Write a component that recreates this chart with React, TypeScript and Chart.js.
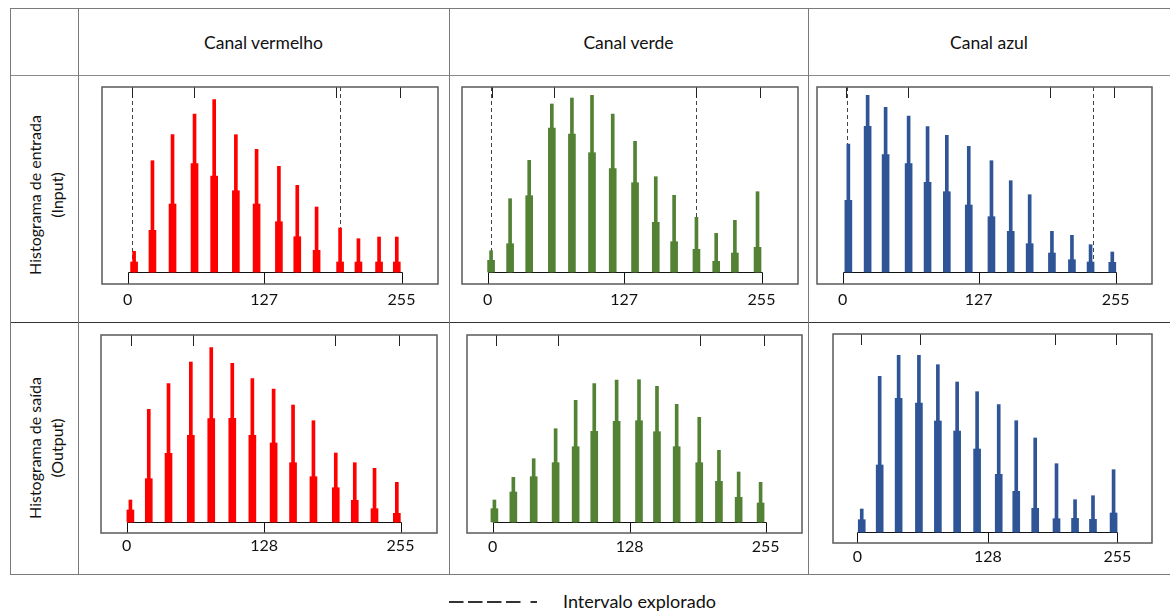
import React, { useEffect, useRef } from "react";
import { Chart, registerables } from "chart.js";

Chart.register(...registerables);

const FONT = "Lato, 'Open Sans', sans-serif";

// ---- text ----
const columnTitles = ["Canal vermelho", "Canal verde", "Canal azul"];
const inputRowLabel = ["Histograma de entrada", "(Input)"];
const outputRowLabel = ["Histograma de saída", "(Output)"];
const legendLabel = "Intervalo explorado";

// ---- axis values ----
const inputTickLabels = [0, 127, 255];
const outputTickLabels = [0, 128, 255];
const topTickValues = [3.5, 61.3, 193.7, 253.5];

// ---- data: red input ----
const redInLevels = [5.9, 23.0, 41.7, 62.2, 80.5, 100.7, 120.0, 140.8, 157.9, 175.9, 197.8, 214.9, 234.1, 250.6];
const redInPeak = [20.7, 111.3, 137.3, 158, 172.3, 137.3, 122.7, 105.7, 86.7, 65, 44, 33.3, 35, 35];
const redInCore = [10, 41.7, 68, 108.3, 96, 81.3, 68, 50.3, 35.3, 21.7, 10, 10, 10, 10];
const redInInterval = [3.7, 198];

// ---- data: green input ----
const greenInLevels = [3.1, 20.8, 38.6, 59.7, 78.4, 97.1, 116.4, 137.2, 156.5, 173.6, 194.4, 212.8, 230.2, 251.3];
const greenInPeak = [21.3, 73.3, 111.7, 168, 174, 176.7, 158, 130.7, 95.3, 76.7, 54.7, 38.7, 51.7, 80.3];
const greenInCore = [11.7, 28.3, 76.3, 144, 138, 119.3, 103.3, 89.3, 49.7, 30.3, 22.7, 10.7, 19, 24.7];
const greenInInterval = [3.2, 193.7];

// ---- data: blue input ----
const blueInLevels = [5.3, 23.3, 40.1, 61.6, 79.3, 97.3, 117.8, 139.0, 157.0, 174.7, 195.5, 214.2, 231.6, 251.9];
const blueInPeak = [128, 176.7, 164.7, 156, 145.3, 136.7, 125.7, 111.3, 91.3, 77.3, 40.7, 36.7, 27.3, 20];
const blueInCore = [71.7, 145.7, 117.3, 108.3, 89.7, 80.3, 67, 55.3, 40.7, 28.3, 19, 12.3, 10, 9.7];
const blueInInterval = [3.7, 233.8];

// ---- data: red output ----
const redOutLevels = [3.4, 20.5, 38.9, 59.7, 78.7, 98.3, 117.0, 136.8, 154.9, 173.9, 194.7, 212.4, 230.8, 251.6];
const redOutPeak = [22, 112.7, 138.3, 160, 174.3, 158.7, 143.3, 133, 117, 101.3, 69, 59.3, 53.7, 39.7];
const redOutCore = [12, 43.3, 68.7, 86.7, 103.3, 103.7, 86.7, 79, 59.3, 45.3, 34.3, 21.7, 13.3, 8.7];

// ---- data: green output ----
const greenOutLevels = [1.6, 19.3, 38.3, 58.8, 77.5, 94.9, 115.8, 136.7, 153.5, 171.9, 193.0, 211.4, 229.8, 250.3];
const greenOutPeak = [22, 44.7, 63.3, 93.3, 121.7, 138.3, 142, 142.3, 135.7, 117.7, 104.7, 71.7, 50, 39.7];
const greenOutCore = [13.3, 30, 45.3, 59.3, 75.3, 90.7, 100.7, 101.3, 90.3, 75.3, 59.3, 40.7, 24.7, 19];

// ---- data: blue output ----
const blueOutLevels = [4.2, 21.8, 40.4, 60.3, 78.9, 97.8, 117.4, 138.6, 155.8, 174.4, 195.3, 213.5, 231.1, 251.3];
const blueOutPeak = [23, 155.7, 176.7, 176.7, 167.3, 150, 140.3, 127.3, 111.3, 94, 68.3, 32.3, 36.3, 62.3];
const blueOutCore = [12.3, 67, 133.7, 129, 111, 101, 83, 57.7, 40.7, 23.7, 13.3, 13.7, 12.7, 19];

const RED = "#FF0000";
const GREEN = "#548235";
const BLUE = "#2F5597";

type PanelSpec = {
  left: number; top: number; width: number; height: number;
  yMin: number; yMax: number; xMin: number; xMax: number;
  color: string; levels: number[]; peak: number[]; core: number[];
  ticks: number[]; interval: number[]; labelPad: number;
};

const AXIS_H = 32;
const PAD = 2;

const panels: PanelSpec[] = [
  { left: 102, top: 87, width: 336, height: 197, yMin: -12, yMax: 185, xMin: -24, xMax: 289, color: RED, levels: redInLevels, peak: redInPeak, core: redInCore, ticks: inputTickLabels, interval: redInInterval, labelPad: 6 },
  { left: 462, top: 87, width: 336, height: 197, yMin: -12, yMax: 185, xMin: -24, xMax: 289, color: GREEN, levels: greenInLevels, peak: greenInPeak, core: greenInCore, ticks: inputTickLabels, interval: greenInInterval, labelPad: 6 },
  { left: 817, top: 87, width: 335, height: 197, yMin: -12, yMax: 185, xMin: -24, xMax: 289, color: BLUE, levels: blueInLevels, peak: blueInPeak, core: blueInCore, ticks: inputTickLabels, interval: blueInInterval, labelPad: 6 },
  { left: 101, top: 335, width: 336, height: 198, yMin: -11, yMax: 187, xMin: -24, xMax: 289, color: RED, levels: redOutLevels, peak: redOutPeak, core: redOutCore, ticks: outputTickLabels, interval: [], labelPad: 3 },
  { left: 467, top: 335, width: 335, height: 198, yMin: -11, yMax: 187, xMin: -24, xMax: 289, color: GREEN, levels: greenOutLevels, peak: greenOutPeak, core: greenOutCore, ticks: outputTickLabels, interval: [], labelPad: 4 },
  { left: 833, top: 334, width: 319, height: 209, yMin: -11, yMax: 198, xMin: -24, xMax: 289, color: BLUE, levels: blueOutLevels, peak: blueOutPeak, core: blueOutCore, ticks: outputTickLabels, interval: [], labelPad: 4 },
];

function Panel({ p }: { p: PanelSpec }) {
  const ref = useRef<HTMLCanvasElement>(null);
  useEffect(() => {
    const canvas = ref.current!;
    const deco = {
      id: "panelDeco",
      beforeDatasetsDraw(chart: any) {
        const { ctx, chartArea: a, scales } = chart;
        const x = scales.x, y = scales.y;
        const yb = y.getPixelForValue(0);
        ctx.save();
        const x0 = x.getPixelForValue(p.ticks[0]);
        const xm = x.getPixelForValue(p.ticks[1]);
        const x1 = x.getPixelForValue(p.ticks[2]);
        ctx.fillStyle = "#fff";
        ctx.fillRect(x0, yb, x1 - x0, a.bottom - yb);
        ctx.strokeStyle = "#111";
        ctx.lineWidth = 1;
        ctx.beginPath();
        ctx.moveTo(Math.round(x0) + 0.5, a.bottom);
        ctx.lineTo(Math.round(x0) + 0.5, Math.round(yb) + 0.5);
        ctx.lineTo(Math.round(x1) + 0.5, Math.round(yb) + 0.5);
        ctx.lineTo(Math.round(x1) + 0.5, a.bottom);
        ctx.moveTo(Math.round(xm) + 0.5, Math.round(yb) + 0.5);
        ctx.lineTo(Math.round(xm) + 0.5, a.bottom);
        ctx.stroke();
        ctx.strokeStyle = "#444";
        ctx.setLineDash([4, 3]);
        for (const v of p.interval) {
          const px = Math.round(x.getPixelForValue(v)) + 0.5;
          ctx.beginPath();
          ctx.moveTo(px, a.top);
          ctx.lineTo(px, yb);
          ctx.stroke();
        }
        ctx.restore();
      },
      afterDatasetsDraw(chart: any) {
        const { ctx, chartArea: a, scales } = chart;
        const x = scales.x;
        ctx.save();
        ctx.strokeStyle = "#222";
        ctx.lineWidth = 1;
        for (const v of topTickValues) {
          const px = Math.round(x.getPixelForValue(v)) + 0.5;
          ctx.beginPath();
          ctx.moveTo(px, a.top);
          ctx.lineTo(px, a.top + 11);
          ctx.stroke();
        }
        ctx.strokeStyle = "#5a5a5a";
        ctx.lineWidth = 1.5;
        ctx.strokeRect(a.left, a.top, a.right - a.left, a.bottom - a.top);
        ctx.restore();
      },
    };
    const chart = new Chart(canvas, {
      type: "bar",
      data: {
        datasets: [
          {
            data: p.levels.map((v, i) => ({ x: v, y: p.peak[i] })),
            backgroundColor: p.color,
            barThickness: 3,
            grouped: false,
            borderWidth: 0,
          } as any,
          {
            data: p.levels.map((v, i) => ({ x: v, y: p.core[i] })),
            backgroundColor: p.color,
            barThickness: 7,
            grouped: false,
            borderWidth: 0,
          } as any,
        ],
      },
      options: {
        animation: false,
        responsive: false,
        events: [],
        layout: { padding: { top: PAD, left: PAD, right: PAD, bottom: 0 } },
        plugins: { legend: { display: false }, tooltip: { enabled: false } },
        scales: {
          x: {
            type: "linear",
            min: p.xMin,
            max: p.xMax,
            offset: false,
            grid: { display: false, drawTicks: false },
            border: { display: false },
            afterBuildTicks: (axis: any) => {
              axis.ticks = p.ticks.map((v) => ({ value: v }));
            },
            afterFit: (axis: any) => {
              axis.height = AXIS_H;
            },
            ticks: {
              autoSkip: false,
              maxRotation: 0,
              padding: p.labelPad,
              color: "#111",
              font: { family: FONT, size: 16 },
              callback: (v: any) => String(v),
            },
          },
          y: { display: false, min: p.yMin, max: p.yMax },
        },
      } as any,
      plugins: [deco],
    });
    return () => chart.destroy();
  }, [p]);
  return (
    <canvas
      ref={ref}
      width={p.width + PAD * 2}
      height={p.height + PAD + AXIS_H}
      style={{ position: "absolute", left: p.left - PAD, top: p.top - PAD }}
    />
  );
}

const hLine = (y: number, color: string) => (
  <div style={{ position: "absolute", left: 10, top: y, width: 1160, height: 1, background: color }} />
);
const vLine = (x: number) => (
  <div style={{ position: "absolute", left: x, top: 8, width: 1, height: 567, background: "#7a7a7a" }} />
);

function RowLabel({ lines, cy }: { lines: string[]; cy: number }) {
  return (
    <div
      style={{
        position: "absolute",
        left: 46,
        top: cy,
        transform: "translate(-50%, -50%) rotate(-90deg)",
        whiteSpace: "nowrap",
        textAlign: "center",
        fontSize: 16,
        lineHeight: "22px",
        color: "#111",
      }}
    >
      {lines.map((l) => (
        <div key={l}>{l}</div>
      ))}
    </div>
  );
}

export default function App() {
  const colCenters = [263.5, 628.5, 989];
  return (
    <div
      style={{
        position: "fixed",
        left: 0,
        top: 0,
        width: 1170,
        height: 612,
        background: "#fff",
        fontFamily: FONT,
        overflow: "hidden",
      }}
    >
      {hLine(8, "#7a7a7a")}
      {hLine(75, "#8a8a8a")}
      {hLine(322, "#333")}
      {hLine(574, "#7a7a7a")}
      {vLine(10)}
      {vLine(78)}
      {vLine(449)}
      {vLine(808)}
      {columnTitles.map((t, i) => (
        <div
          key={t}
          style={{
            position: "absolute",
            left: colCenters[i],
            top: 42,
            transform: "translate(-50%, -50%)",
            whiteSpace: "nowrap",
            fontSize: 17.5,
            color: "#111",
          }}
        >
          {t}
        </div>
      ))}
      <RowLabel lines={inputRowLabel} cy={195} />
      <RowLabel lines={outputRowLabel} cy={448} />
      {panels.map((p, i) => (
        <Panel key={i} p={p} />
      ))}
      <svg style={{ position: "absolute", left: 445, top: 596 }} width={100} height={12}>
        <line x1={4} y1={6} x2={92} y2={6} stroke="#333" strokeWidth={2} strokeDasharray="14.5 4.5 14.5 4.5 14.5 4.5 14.5 10 7" />
      </svg>
      <div
        style={{
          position: "absolute",
          left: 563,
          top: 601,
          transform: "translateY(-50%)",
          whiteSpace: "nowrap",
          fontSize: 18,
          color: "#111",
        }}
      >
        {legendLabel}
      </div>
    </div>
  );
}
